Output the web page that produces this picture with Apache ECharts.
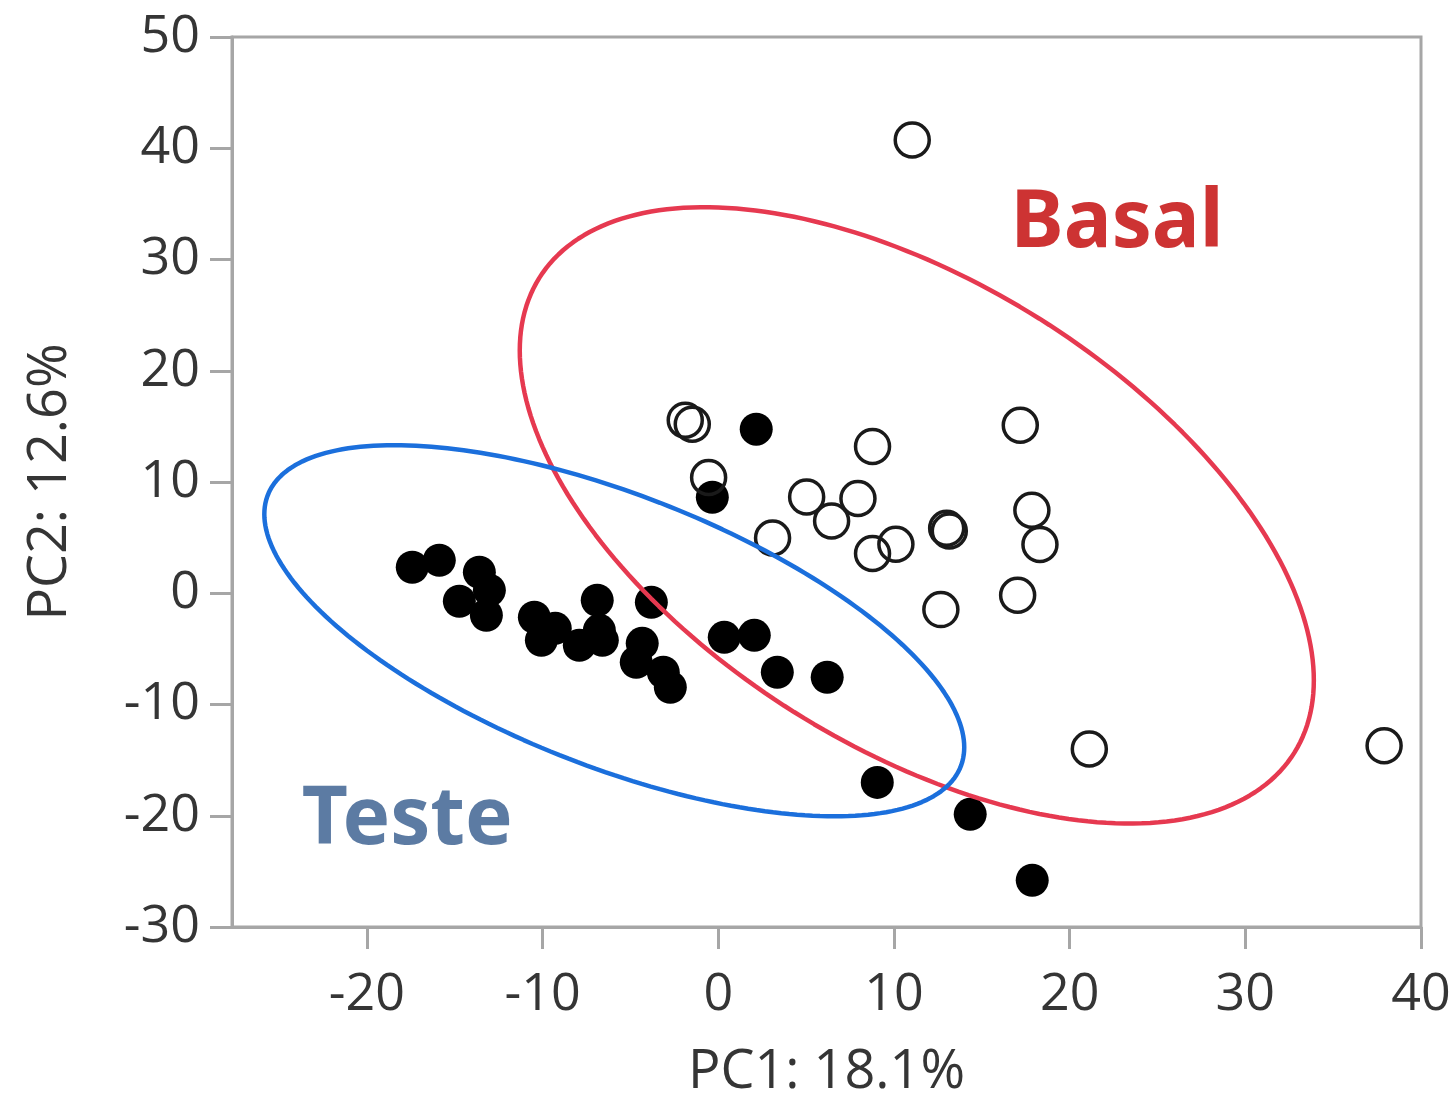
<!DOCTYPE html>
<html>
<head>
<meta charset="utf-8">
<script src="https://cdn.jsdelivr.net/npm/echarts@6/dist/echarts.min.js"></script>
<style>
html,body{margin:0;padding:0;background:#fff;}
#chart{width:1456px;height:1100px;}
</style>
</head>
<body>
<div id="chart"></div>
<script>
// ---- data ----
const xTicks = [-20, -10, 0, 10, 20, 30, 40];
const yTicks = [-30, -20, -10, 0, 10, 20, 30, 40, 50];

// Basal (open circles): [PC1, PC2]
const basalPoints = [
  [11.04, 40.74], [-1.88, 15.56], [-1.48, 15.2], [17.19, 15.1], [8.78, 13.2],
  [-0.55, 10.4], [5.03, 8.66], [7.95, 8.51], [6.45, 6.5], [3.09, 4.97],
  [8.78, 3.57], [10.11, 4.41], [13.0, 5.85], [13.15, 5.6], [17.85, 7.46],
  [18.31, 4.38], [17.04, -0.18], [12.67, -1.47], [21.12, -14.0], [37.9, -13.7]
];

// Teste (filled circles): [PC1, PC2]
const testePoints = [
  [2.16, 14.75], [-0.34, 8.63], [-17.42, 2.34], [-15.88, 2.97], [-13.6, 1.89],
  [-13.03, 0.27], [-14.74, -0.72], [-13.2, -1.98], [-10.47, -2.16], [-10.07, -4.23],
  [-9.28, -3.15], [-7.91, -4.68], [-6.89, -0.63], [-6.77, -3.33], [-6.6, -4.23],
  [-4.33, -4.5], [-4.67, -6.2], [-3.13, -7.1], [-2.73, -8.45], [-3.81, -0.81],
  [0.34, -3.96], [2.05, -3.78], [3.36, -7.1], [6.2, -7.55], [9.05, -17.0],
  [14.34, -19.87], [17.87, -25.8]
];

// ellipse parameters: [centerX, centerY, halfExtentX, halfExtentY, correlation]
const basalEllipse = [11.3, 7.0, 22.6, 27.7, -0.535];
const testeEllipse = [-5.92, -3.37, 19.92, 16.68, -0.628];

const groupLabels = ['Basal', 'Teste'];
const labelAnchors = [[22.7, 33.2], [-17.7, -20.5]];

function ellipsePath(p) {
  const [cx, cy, rx, ry, rho] = p;
  const s = Math.sqrt(1 - rho * rho);
  const out = [];
  for (let i = 0; i <= 240; i++) {
    const t = (i / 240) * Math.PI * 2;
    out.push([cx + rx * Math.cos(t), cy + ry * (rho * Math.cos(t) + s * Math.sin(t))]);
  }
  return out;
}

const chart = echarts.init(document.getElementById('chart'), null, {renderer: 'canvas'});
const axisGray = '#a6a6a6';
const textCol = '#353535';
const fontFam = '"Open Sans", "Noto Sans", sans-serif';

chart.setOption({
  animation: false,
  backgroundColor: '#ffffff',
  grid: {left: 232, right: 35, top: 37, bottom: 173, containLabel: false, outerBoundsMode: 'none',
         show: true, borderColor: axisGray, borderWidth: 3, backgroundColor: 'transparent'},
  xAxis: {
    type: 'value', min: -27.68, max: 40,
    splitLine: {show: false},
    axisLine: {show: true, onZero: false, lineStyle: {color: axisGray, width: 3}},
    axisTick: {show: true, length: 22, customValues: xTicks, lineStyle: {color: axisGray, width: 3}},
    axisLabel: {customValues: xTicks, margin: 42, fontSize: 52, color: textCol, fontFamily: fontFam},
    name: 'PC1: 18.1%', nameLocation: 'middle', nameGap: 119,
    nameTextStyle: {fontSize: 54, color: textCol, fontFamily: fontFam}
  },
  yAxis: {
    type: 'value', min: -30, max: 50, interval: 10,
    splitLine: {show: false},
    axisLine: {show: true, onZero: false, lineStyle: {color: axisGray, width: 3}},
    axisTick: {show: true, length: 22, lineStyle: {color: axisGray, width: 3}},
    axisLabel: {margin: 32, fontSize: 52, color: textCol, fontFamily: fontFam},
    name: 'PC2: 12.6%', nameLocation: 'middle', nameGap: 154,
    nameTextStyle: {fontSize: 54, color: textCol, fontFamily: fontFam}
  },
  series: [
    {
      name: 'Teste', type: 'scatter', data: testePoints, symbol: 'circle', symbolSize: 33,
      itemStyle: {color: '#000000', opacity: 1}, z: 2
    },
    {
      name: 'Basal', type: 'scatter', data: basalPoints, symbol: 'circle', symbolSize: 34,
      itemStyle: {color: 'rgba(255,255,255,0)', borderColor: '#1a1a1a', borderWidth: 3.5, opacity: 1}, z: 2
    },
    {
      name: 'Basal ellipse', type: 'line', data: ellipsePath(basalEllipse), showSymbol: false, symbol: 'none',
      lineStyle: {color: '#e63950', width: 4.5}, z: 3, silent: true
    },
    {
      name: 'Teste ellipse', type: 'line', data: ellipsePath(testeEllipse), showSymbol: false, symbol: 'none',
      lineStyle: {color: '#1b6fdc', width: 4.5}, z: 3, silent: true
    },
    {
      name: 'labels', type: 'scatter', silent: true, symbolSize: 1,
      itemStyle: {color: 'rgba(0,0,0,0)'},
      data: [
        {value: labelAnchors[0], label: {show: true, position: 'inside', formatter: groupLabels[0], color: '#c00000', fontSize: 80, fontWeight: 'bold', fontFamily: '"Noto Sans", sans-serif'}},
        {value: labelAnchors[1], label: {show: true, position: 'inside', formatter: groupLabels[1], color: '#335a8c', fontSize: 80, fontWeight: 'bold', fontFamily: '"Noto Sans", sans-serif'}}
      ],
      z: 4
    }
  ]
});
</script>
</body>
</html>
